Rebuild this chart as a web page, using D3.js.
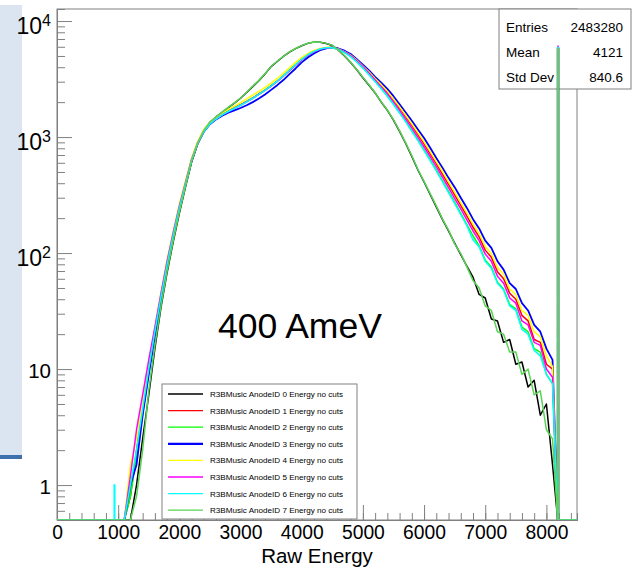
<!DOCTYPE html>
<html>
<head>
<meta charset="utf-8">
<script src="https://cdn.jsdelivr.net/npm/d3@7"></script>
<style>
  body { margin: 0; background: #fff; }
  svg { display: block; font-family: "Liberation Sans", Arial, Helvetica, sans-serif; }
</style>
</head>
<body>
<svg id="svg" width="641" height="569"></svg>
<script>
// bin centres (Raw Energy)
const energy = [
  900,1000,1100,1200,1300,1400,1500,1600,1700,1800,
  1900,2000,2100,2200,2300,2400,2500,2600,2700,2800,
  2900,3000,3100,3200,3300,3400,3500,3600,3700,3800,
  3900,4000,4100,4200,4300,4400,4500,4600,4700,4800,
  4900,5000,5100,5200,5300,5400,5500,5600,5700,5800,
  5900,6000,6100,6200,6300,6400,6500,6600,6700,6800,
  6900,7000,7100,7200,7300,7400,7500,7600,7700,7800,
  7900,8000,8100];

const anode0 = [
  0,0,0,0,1,2.5,6,15,34,68,
  125,220,370,610,880,1140,1340,1490,1630,1790,
  1960,2160,2420,2720,3060,3500,4050,4480,4950,5400,
  5780,6120,6420,6580,6560,6400,6150,5600,5000,4400,
  3800,3250,2800,2400,2000,1700,1400,1120,880,680,
  520,410,320,250,195,155,122,97,77,62,
  44,41,27,26,17,18,11,11.5,7,8,
  4,5,1.5];
const anode1 = [
  0,0,0,0.8,2,4.5,10,21,43,82,
  148,250,400,640,900,1140,1320,1450,1570,1680,
  1790,1900,2030,2180,2350,2540,2760,3030,3360,3750,
  4180,4650,5080,5450,5720,5880,5920,5760,5460,5080,
  4600,4100,3630,3180,2800,2440,2090,1780,1500,1260,
  1050,875,720,590,480,390,318,258,208,167,
  138,106,92,69,60,45,40,29,26,18,
  17,11,10];
const anode2 = [
  0,0,0,0.8,1.8,4,9.5,20,41,79,
  142,243,392,628,885,1120,1300,1435,1555,1665,
  1775,1890,2020,2170,2340,2540,2770,3040,3380,3780,
  4210,4690,5120,5480,5740,5870,5870,5680,5360,4960,
  4460,3950,3470,3020,2630,2270,1930,1630,1370,1140,
  945,780,640,520,422,340,275,220,176,141,
  116,87,76,56,49,36,33,23,21,15,
  14,9,7.5];
const anode3 = [
  0,0,0,1,1.5,4,9,19,40,78,
  140,240,390,620,880,1110,1290,1420,1530,1620,
  1700,1780,1880,2000,2150,2330,2550,2800,3100,3480,
  3900,4400,4850,5250,5600,5820,5950,5800,5550,5200,
  4700,4200,3750,3300,2950,2600,2250,1920,1630,1380,
  1160,980,810,660,545,445,370,300,245,196,
  163,128,111,85,72,55,49,37,32,24,
  21,15,12];
const anode4 = [
  0,0,0,1.5,2.5,5,11,23,46,88,
  155,265,420,660,920,1160,1340,1480,1600,1730,
  1850,1980,2130,2300,2480,2680,2920,3200,3550,3950,
  4400,4850,5250,5580,5800,5930,5920,5750,5450,5080,
  4600,4100,3650,3200,2830,2480,2130,1820,1540,1300,
  1090,910,750,615,505,410,335,272,222,178,
  148,114,99,75,66,49,44,32,29,21,
  19,13,10.5];
const anode5 = [
  0,0,0,1.2,3,6,12,23,45,85,
  150,255,405,640,890,1120,1300,1430,1550,1660,
  1770,1880,2010,2160,2330,2520,2750,3020,3350,3740,
  4170,4640,5070,5440,5710,5870,5900,5730,5420,5030,
  4540,4030,3560,3100,2720,2360,2010,1700,1430,1200,
  995,825,680,555,452,366,296,240,193,155,
  128,98,85,63,55,41,37,26,24,17,
  16,10,8.5];
const anode6 = [
  0,0,0,1,2,4.5,10,21,42,80,
  143,245,395,630,885,1115,1295,1430,1550,1660,
  1770,1880,2010,2160,2330,2530,2760,3030,3370,3770,
  4200,4680,5120,5480,5740,5880,5880,5680,5350,4940,
  4440,3930,3450,3000,2610,2250,1910,1610,1350,1120,
  930,765,625,510,412,332,268,215,172,130,
  113,85,74,55,48,35,32,22,20,14.5,
  13,9,7.5];
const anode7 = [
  0,0,0,0,0.8,2,6.5,16,35,70,
  128,224,375,615,885,1145,1345,1495,1640,1800,
  1970,2170,2430,2740,3080,3520,4060,4500,4970,5420,
  5800,6140,6440,6600,6580,6420,6170,5620,5020,4420,
  3820,3270,2820,2410,2010,1710,1410,1130,890,690,
  525,415,325,255,197,158,120,99,76,58,
  50,35,32,21,20,14,14,9,10,6,
  6.5,3,2.5];

// lone low-energy count seen on anode 6
const strayEnergy = 940, strayCount = 1;

// saturation bin near the top of the ADC range
const satLow = 8185, satHigh = 8195;
const satCounts = [5850, 5880, 5870, 5900, 5860, 6050, 5950, 5800];

const anodes = [anode0, anode1, anode2, anode3, anode4, anode5, anode6, anode7];
const colors = ["#000000", "#ff0000", "#00ff00", "#0000ff", "#ffff00", "#ff00ff", "#00ffff", "#59d454"];
const legendLabels = [0,1,2,3,4,5,6,7].map(i => "R3BMusic AnodeID " + i + " Energy no cuts");

const statNames = ["Entries", "Mean", "Std Dev"];
const statValues = ["2483280", "4121", "840.6"];

const svg = d3.select("#svg");
const plot = {left: 57, right: 577, top: 9, bottom: 520};
const axisColor = "#808080";

// slide background strip on the left
svg.append("rect").attr("x", 0).attr("y", 5).attr("width", 22).attr("height", 450).attr("fill", "#dae5f1");
svg.append("rect").attr("x", 0).attr("y", 455).attr("width", 22).attr("height", 4).attr("fill", "#3f6fad");

const x = d3.scaleLinear().domain([0, 8500]).range([plot.left, plot.right]);
const y = d3.scaleLog().domain([0.5, 12700]).range([plot.bottom, plot.top]);

// frame
svg.append("rect")
  .attr("x", plot.left).attr("y", plot.top)
  .attr("width", plot.right - plot.left).attr("height", plot.bottom - plot.top)
  .attr("fill", "none").attr("stroke", axisColor).attr("stroke-width", 1);

// x axis, ticks pointing into the frame
const xAxis = svg.append("g")
  .attr("transform", "translate(0," + plot.bottom + ")")
  .call(d3.axisBottom(x).tickValues(x.ticks(9)).tickSizeInner(-15).tickSizeOuter(0)
    .tickPadding(5).tickFormat(d3.format("d")));
svg.append("g")
  .attr("transform", "translate(0," + plot.bottom + ")")
  .call(d3.axisBottom(x).tickValues(x.ticks(42)).tickSize(-7).tickFormat(""));

// y axis
const yMajor = [1, 10, 100, 1000, 10000];
const yAxis = svg.append("g")
  .attr("transform", "translate(" + plot.left + ",0)")
  .call(d3.axisLeft(y).tickValues(yMajor).tickSizeInner(-15).tickSizeOuter(0).tickPadding(6).tickFormat(d => d));
svg.append("g")
  .attr("transform", "translate(" + plot.left + ",0)")
  .call(d3.axisLeft(y).tickValues(y.ticks().filter(d => !yMajor.includes(d))).tickSize(-8).tickFormat(""));

svg.selectAll(".domain").attr("stroke", axisColor);
svg.selectAll(".tick line").attr("stroke", axisColor);

xAxis.selectAll("text").attr("font-size", 19.3).attr("fill", "#000");

yAxis.selectAll(".tick text").each(function(d) {
  const t = d3.select(this).text(null).attr("fill", "#000");
  if (d >= 100) {
    t.attr("font-size", 23).attr("dy", "0.52em");
    t.append("tspan").text("10");
    t.append("tspan").attr("font-size", 16).attr("dy", -8).text(Math.round(Math.log10(d)));
  } else {
    t.attr("font-size", 20.5).attr("dy", "0.41em").text(d);
  }
});

svg.append("text")
  .attr("x", (plot.left + plot.right) / 2).attr("y", 562.5)
  .attr("text-anchor", "middle").attr("font-size", 20.5)
  .text("Raw Energy");

// stats box
const stats = svg.append("g");
stats.append("rect")
  .attr("x", 499).attr("y", 9).attr("width", 132).attr("height", 80)
  .attr("fill", "#fff").attr("stroke", axisColor);
statNames.forEach((s, i) => {
  stats.append("text").attr("x", 506).attr("y", 31.5 + i * 25)
    .attr("font-size", 13.5).text(s);
  stats.append("text").attr("x", 623).attr("y", 31.5 + i * 25)
    .attr("font-size", 13.5).attr("text-anchor", "end").text(statValues[i]);
});

// histograms
svg.append("clipPath").attr("id", "clip")
  .append("rect").attr("x", plot.left).attr("y", plot.top)
  .attr("width", plot.right - plot.left).attr("height", plot.bottom - plot.top);

const yMin = y.domain()[0];
const line = d3.line()
  .x(d => x(d[0]))
  .y(d => y(Math.max(d[1], yMin)));

const hists = svg.append("g").attr("clip-path", "url(#clip)");

// the single stray count drawn as a thin bin
hists.append("path")
  .attr("d", line([[strayEnergy - 5, 0], [strayEnergy - 5, strayCount], [strayEnergy + 5, strayCount], [strayEnergy + 5, 0]]))
  .attr("fill", "none").attr("stroke", colors[6]).attr("stroke-width", 1.5);

anodes.forEach((vals, i) => {
  const pts = [[0, 0]]
    .concat(energy.map((e, j) => [e, vals[j]]))
    .concat([[satLow, 0], [satLow, satCounts[i]], [satHigh, satCounts[i]], [satHigh, 0], [8500, 0]]);
  hists.append("path")
    .attr("d", line(pts))
    .attr("fill", "none")
    .attr("stroke", colors[i])
    .attr("stroke-width", i === 3 ? 1.8 : 1.5)
    .attr("stroke-linejoin", "round");
});

svg.append("text")
  .attr("x", 218).attr("y", 338)
  .attr("font-size", 35.5)
  .text("400 AmeV");

// legend
const legend = svg.append("g");
legend.append("rect")
  .attr("x", 162).attr("y", 384).attr("width", 195).attr("height", 135)
  .attr("fill", "#fff").attr("stroke", axisColor);
legendLabels.forEach((lab, i) => {
  const cy = 394 + i * 16.6;
  legend.append("line")
    .attr("x1", 168).attr("x2", 203).attr("y1", cy).attr("y2", cy)
    .attr("stroke", colors[i]).attr("stroke-width", i === 3 ? 2.2 : 1.3);
  legend.append("text")
    .attr("x", 210).attr("y", cy + 3)
    .attr("font-size", 8.1).text(lab);
});
</script>
</body>
</html>
